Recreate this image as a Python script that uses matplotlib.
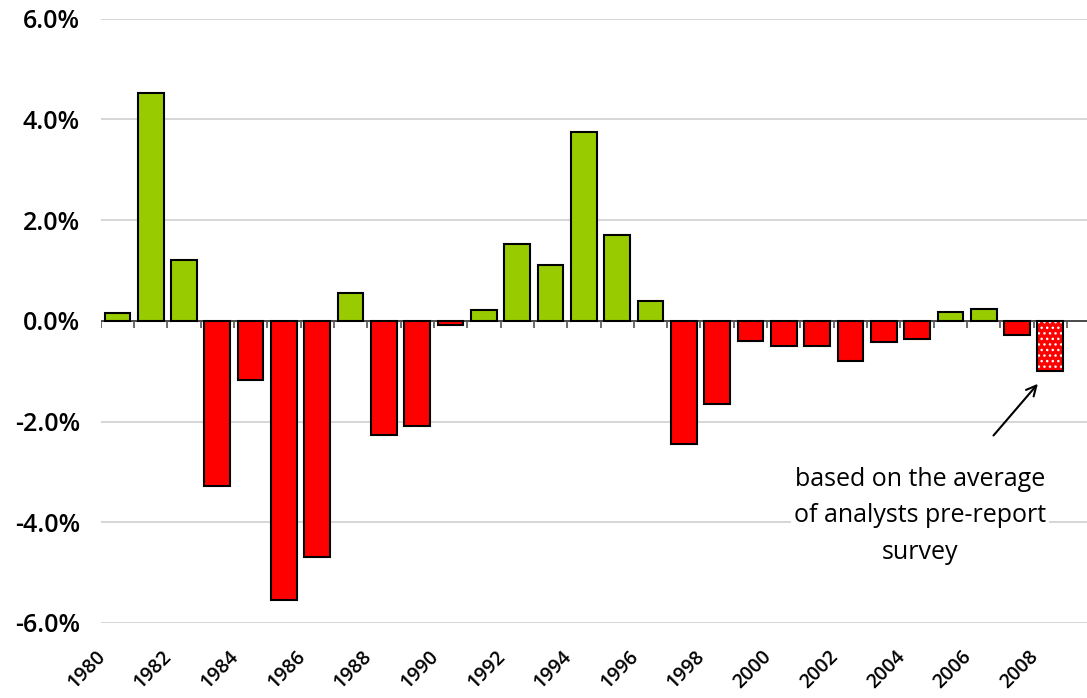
import matplotlib
matplotlib.use("Agg")
import matplotlib.pyplot as plt
import matplotlib.transforms as mtransforms
import numpy as np

years = list(range(1980, 2009))
values = [0.15, 4.52, 1.21, -3.29, -1.18, -5.54, -4.68, 0.56, -2.26, -2.08,
          -0.08, 0.22, 1.53, 1.10, 3.74, 1.71, 0.39, -2.44, -1.65, -0.41,
          -0.51, -0.50, -0.79, -0.43, -0.36, 0.18, 0.24, -0.29, -1.00]
estimated = [2008]
yticks = [-6, -4, -2, 0, 2, 4, 6]
note = "based on the average\nof analysts pre-report\nsurvey"

GREEN = "#99CC00"
RED = "#FF0000"

plt.rcParams['font.family'] = ['Open Sans', 'DejaVu Sans']

fig = plt.figure(figsize=(10.87, 6.98), dpi=100)
ax = fig.add_axes([100.7/1087, 1-623/698, 1-100.7/1087, (623-18.5)/698])

x = np.arange(len(years))
for xi, yr, v in zip(x, years, values):
    col = GREEN if v >= 0 else RED
    if yr in estimated:
        ax.bar(xi, v, width=0.77, color=RED, edgecolor="white", hatch="...", linewidth=0, zorder=3)
        ax.bar(xi, v, width=0.77, fill=False, edgecolor="black", linewidth=1.5, zorder=4)
    else:
        ax.bar(xi, v, width=0.77, color=col, edgecolor="black", linewidth=1.5, zorder=3)

ax.set_ylim(-6, 6)
ax.set_xlim(-0.5, len(years) - 0.5 + 20/33.3)
ax.set_yticks(yticks)
ax.set_yticklabels([f"{t:.1f}%" for t in yticks], fontsize=18, fontweight='semibold')
ax.yaxis.grid(True, color="#d0d0d0", linewidth=1.2, zorder=0)
ax.set_axisbelow(True)
ax.tick_params(axis='y', length=0, pad=15)

ax.set_xticks([])
trans = mtransforms.blended_transform_factory(ax.transData, ax.transAxes)
trans = trans + mtransforms.ScaledTranslation(-15/100, -31/100, fig.dpi_scale_trans)
for xi, yr in zip(x[::2], years[::2]):
    ax.text(xi, 0, str(yr), transform=trans, rotation=45, ha='right', va='center',
            rotation_mode='anchor', fontsize=14, fontweight='semibold', clip_on=False)

for s in ax.spines.values():
    s.set_visible(False)

ax.axhline(0, color="#333333", linewidth=1.2, zorder=2)
bounds = np.arange(len(years) + 1) - 0.5
ax.vlines(bounds, -0.14, 0, color="#555555", linewidth=1.2, zorder=2)

ax.text(24.08, -2.9, note, ha='center', va='top', fontsize=18, linespacing=1.6,
        bbox=dict(facecolor='white', edgecolor='none', pad=2), zorder=5)
ax.annotate("", xy=(27.68, -1.21), xytext=(26.24, -2.32),
            arrowprops=dict(arrowstyle="->", color="black", lw=1.5, mutation_scale=18), zorder=5)

fig.savefig("out.png", dpi=100)
